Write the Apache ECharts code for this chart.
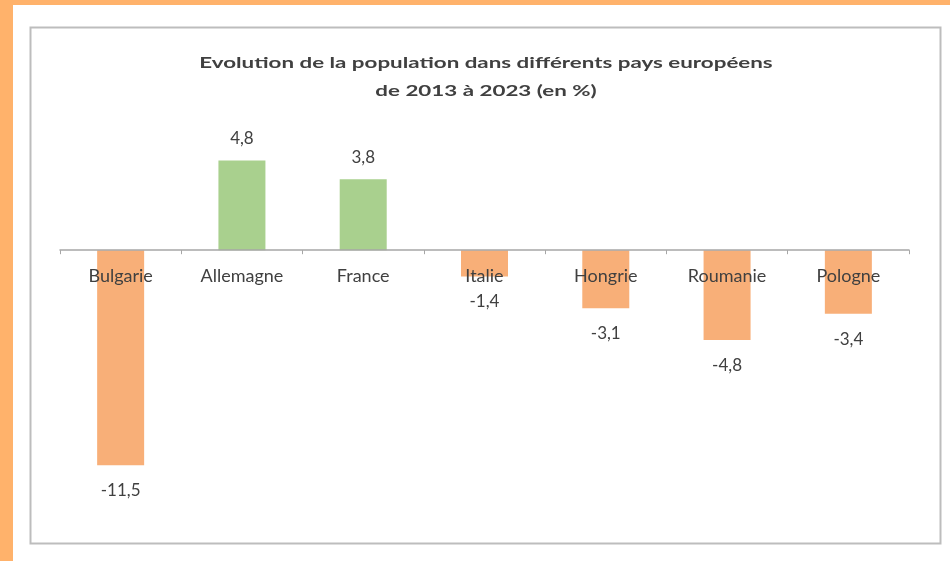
<!DOCTYPE html>
<html>
<head>
<meta charset="utf-8">
<script src="https://cdn.jsdelivr.net/npm/echarts@6/dist/echarts.min.js"></script>
<style>
  html, body { margin: 0; padding: 0; background: #fff; }
  #chart { width: 950px; height: 561px; }
</style>
</head>
<body>
<div id="chart"></div>
<script>
// données : évolution de la population 2013-2023 (en %)
const countries = ['Bulgarie', 'Allemagne', 'France', 'Italie', 'Hongrie', 'Roumanie', 'Pologne'];
const changes = [-11.5, 4.8, 3.8, -1.4, -3.1, -4.8, -3.4];

const POS_COLOR = '#A9D08E';
const NEG_COLOR = '#F8AF78';
const TEXT_COLOR = '#404040';
const FONT = 'Lato, "Open Sans", sans-serif';

const Y_MIN = -14;
const Y_MAX = 6;
const GRID_TOP = 138;
const GRID_HEIGHT = 374;
// l'axe des catégories est placé sur la ligne du zéro
const zeroOffset = -GRID_HEIGHT * (0 - Y_MIN) / (Y_MAX - Y_MIN);

let chart = echarts.init(document.getElementById('chart'));

let option = {
  backgroundColor: '#fff',
  animation: false,
  graphic: [
    // cadre orange
    { type: 'rect', shape: { x: 0, y: 0, width: 13, height: 561 }, style: { fill: '#FFB26B' } },
    { type: 'rect', shape: { x: 0, y: 0, width: 950, height: 5 }, style: { fill: '#FFB26B' } },
    // bordure du graphique
    {
      type: 'rect',
      shape: { x: 30.5, y: 27.5, width: 910, height: 516 },
      style: { fill: 'none', stroke: '#BDBDBD', lineWidth: 2 },
    },
    {
      type: 'text',
      x: 486,
      y: 49,
      scaleX: 1.49,
      style: {
        text: 'Evolution de la population dans différents pays européens\nde 2013 à 2023 (en %)',
        textAlign: 'center',
        fill: TEXT_COLOR,
        font: 'bold 15px ' + FONT,
        lineHeight: 28,
      },
    },
  ],
  grid: { left: 60, right: 41, top: GRID_TOP, height: GRID_HEIGHT, containLabel: false },
  xAxis: {
    type: 'category',
    data: countries,
    position: 'bottom',
    offset: zeroOffset,
    axisLine: { onZero: false, lineStyle: { color: '#A6A6A6', width: 1.5 } },
    axisTick: { show: true, alignWithLabel: false, length: 4, lineStyle: { color: '#A6A6A6' } },
    axisLabel: { color: TEXT_COLOR, fontSize: 18, fontFamily: FONT, margin: 17, interval: 0 },
    z: 10,
  },
  yAxis: {
    type: 'value',
    min: Y_MIN,
    max: Y_MAX,
    show: false,
    splitLine: { show: false },
  },
  series: [
    {
      type: 'bar',
      barWidth: 47,
      data: changes.map((v) => ({
        value: v,
        itemStyle: { color: v >= 0 ? POS_COLOR : NEG_COLOR },
        label: {
          position: v >= 0 ? 'top' : 'bottom',
          distance: v >= 0 ? 13 : 17,
        },
      })),
      label: {
        show: true,
        color: TEXT_COLOR,
        fontSize: 17,
        fontFamily: FONT,
        formatter: (p) => String(p.value).replace('.', ','),
      },
    },
  ],
};

chart.setOption(option);
</script>
</body>
</html>
